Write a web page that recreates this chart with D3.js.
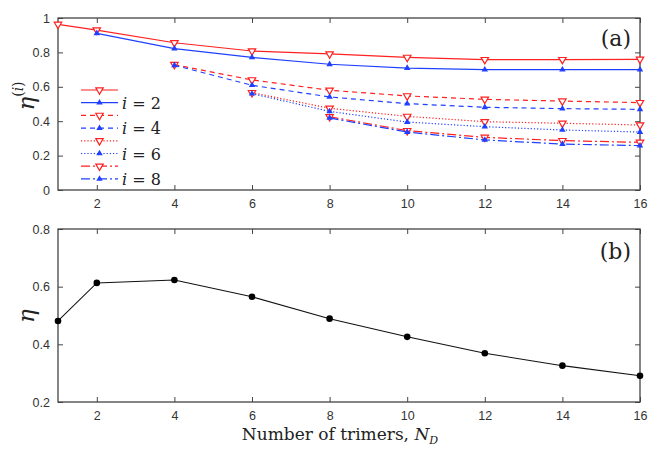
<!DOCTYPE html>
<html>
<head>
<meta charset="utf-8">
<script src="https://cdn.jsdelivr.net/npm/d3@7"></script>
<style>
  body { margin: 0; background: #fff; }
  .tick text { font-family: "Liberation Sans", Arial, sans-serif; font-size: 12.5px; fill: #333; }
</style>
</head>
<body>
<div id="chart"></div>
<script>
// N_D values
var nd = [1, 2, 4, 6, 8, 10, 12, 14, 16];

// panel (a): eta^(i) per i, starting at N_D >= i
var eta1 = [0.963, 0.930, 0.856, 0.808, 0.791, 0.771, 0.758, 0.758, 0.760];
var eta2 = [null, 0.911, 0.822, 0.771, 0.731, 0.709, 0.700, 0.700, 0.700];
var eta3 = [null, null, 0.729, 0.640, 0.580, 0.547, 0.527, 0.517, 0.508];
var eta4 = [null, null, 0.725, 0.609, 0.541, 0.502, 0.481, 0.473, 0.469];
var eta5 = [null, null, null, 0.566, 0.475, 0.428, 0.397, 0.388, 0.378];
var eta6 = [null, null, null, 0.560, 0.457, 0.395, 0.368, 0.349, 0.337];
var eta7 = [null, null, null, null, 0.426, 0.345, 0.306, 0.287, 0.277];
var eta8 = [null, null, null, null, 0.419, 0.337, 0.291, 0.267, 0.258];

// panel (b): total eta
var etaTotal = [0.481, 0.613, 0.623, 0.565, 0.489, 0.426, 0.369, 0.326, 0.291];

var xTicks = [2, 4, 6, 8, 10, 12, 14, 16];
var yTicksA = [0, 0.2, 0.4, 0.6, 0.8, 1];
var yTicksB = [0.2, 0.4, 0.6, 0.8];

var series = [
  {vals: eta1, color: "#ff2020", dash: null, marker: "down", label: ""},
  {vals: eta2, color: "#2040ff", dash: null, marker: "up", label: "2"},
  {vals: eta3, color: "#ff2020", dash: "5,4", marker: "down", label: ""},
  {vals: eta4, color: "#2040ff", dash: "5,4", marker: "up", label: "4"},
  {vals: eta5, color: "#ff2020", dash: "1.2,2", marker: "down", label: ""},
  {vals: eta6, color: "#2040ff", dash: "1.2,2", marker: "up", label: "6"},
  {vals: eta7, color: "#ff2020", dash: "9,3,2,3", marker: "down", label: ""},
  {vals: eta8, color: "#2040ff", dash: "9,3,2,3", marker: "up", label: "8"}
];

var width = 649, height = 449;
var left = 58, right = 640;

var svg = d3.select("#chart").append("svg")
  .attr("width", width)
  .attr("height", height);

var x = d3.scaleLinear().domain([1, 16]).range([left, right]);
var yA = d3.scaleLinear().domain([0, 1]).range([190, 18]);
var yB = d3.scaleLinear().domain([0.2, 0.8]).range([402, 229]);

var serif = "DejaVu Serif";
var frameColor = "#444";

function drawAxes(y, yTicks, fmt) {
  var top = y.range()[1], bottom = y.range()[0];
  // bottom axis with labels, ticks pointing inward
  svg.append("g")
    .attr("transform", "translate(0," + bottom + ")")
    .call(d3.axisBottom(x).tickValues(xTicks).tickSize(-5).tickPadding(9).tickFormat(d3.format("d")));
  svg.append("g")
    .attr("transform", "translate(0," + top + ")")
    .call(d3.axisTop(x).tickValues(xTicks).tickSize(-5).tickFormat(""));
  svg.append("g")
    .attr("transform", "translate(" + left + ",0)")
    .call(d3.axisLeft(y).tickValues(yTicks).tickSize(-5).tickPadding(8).tickFormat(fmt));
  svg.append("g")
    .attr("transform", "translate(" + right + ",0)")
    .call(d3.axisRight(y).tickValues(yTicks).tickSize(-5).tickFormat(""));
  svg.selectAll(".domain").remove();
  svg.selectAll(".tick line").attr("stroke", frameColor).attr("stroke-width", 1);
  svg.append("rect")
    .attr("x", left).attr("y", top)
    .attr("width", right - left).attr("height", bottom - top)
    .attr("fill", "none").attr("stroke", frameColor).attr("stroke-width", 1.3);
}

drawAxes(yA, yTicksA, function(d) { return d === 0 || d === 1 ? d3.format("d")(d) : d3.format(".1f")(d); });
drawAxes(yB, yTicksB, d3.format(".1f"));

var triDown = d3.symbol().type(d3.symbolTriangle).size(24);
var triUp = d3.symbol().type(d3.symbolTriangle).size(18);

function marker(g, s, px, py) {
  if (s.marker === "down") {
    g.append("path").attr("d", triDown())
      .attr("transform", "translate(" + px + "," + py + ") rotate(180)")
      .attr("fill", "#fff").attr("stroke", s.color).attr("stroke-width", 1.2);
  } else {
    g.append("path").attr("d", triUp())
      .attr("transform", "translate(" + px + "," + py + ")")
      .attr("fill", s.color);
  }
}

// panel (a) lines
var lineA = d3.line()
  .defined(function(d) { return d.v !== null; })
  .x(function(d) { return x(d.n); })
  .y(function(d) { return yA(d.v); });

series.forEach(function(s) {
  var pts = nd.map(function(n, i) { return {n: n, v: s.vals[i]}; });
  var g = svg.append("g");
  g.append("path")
    .datum(pts)
    .attr("d", lineA)
    .attr("fill", "none")
    .attr("stroke", s.color)
    .attr("stroke-width", 1.2)
    .attr("stroke-dasharray", s.dash);
  pts.filter(function(d) { return d.v !== null; }).forEach(function(d) {
    marker(g, s, x(d.n), yA(d.v));
  });
});

// legend
var leg = svg.append("g");
series.forEach(function(s, i) {
  var ly = 90 + i * 12.7;
  leg.append("line")
    .attr("x1", 81).attr("x2", 118).attr("y1", ly).attr("y2", ly)
    .attr("stroke", s.color).attr("stroke-width", 1.2)
    .attr("stroke-dasharray", s.dash);
  marker(leg, s, 99.5, ly);
  if (s.label) {
    var t = leg.append("text")
      .attr("x", 122).attr("y", ly + 6)
      .attr("font-family", serif).attr("font-size", 16).attr("fill", "#222");
    t.append("tspan").attr("font-style", "italic").text("i");
    t.append("tspan").text(" = " + s.label);
  }
});

// panel (b)
var lineB = d3.line()
  .x(function(d, i) { return x(nd[i]); })
  .y(function(d) { return yB(d); });

svg.append("path")
  .datum(etaTotal)
  .attr("d", lineB)
  .attr("fill", "none")
  .attr("stroke", "#111")
  .attr("stroke-width", 1.1);

svg.selectAll(".dotB")
  .data(etaTotal)
  .enter().append("circle")
  .attr("cx", function(d, i) { return x(nd[i]); })
  .attr("cy", function(d) { return yB(d); })
  .attr("r", 3.3)
  .attr("fill", "#000");

// panel labels
svg.append("text").attr("x", 631).attr("y", 46).attr("text-anchor", "end")
  .attr("font-family", serif).attr("font-size", 22).attr("fill", "#222").text("(a)");
svg.append("text").attr("x", 631).attr("y", 259).attr("text-anchor", "end")
  .attr("font-family", serif).attr("font-size", 22).attr("fill", "#222").text("(b)");

// y axis titles
var ta = svg.append("text")
  .attr("transform", "translate(34,96) rotate(-90)")
  .attr("text-anchor", "middle")
  .attr("font-family", serif).attr("font-size", 23).attr("fill", "#222");
ta.append("tspan").attr("font-style", "italic").text("η");
ta.append("tspan").attr("font-size", 14).attr("dy", -11).text("(");
ta.append("tspan").attr("font-size", 14).attr("font-style", "italic").text("i");
ta.append("tspan").attr("font-size", 14).text(")");

svg.append("text")
  .attr("transform", "translate(34,316) rotate(-90)")
  .attr("text-anchor", "middle")
  .attr("font-family", serif).attr("font-size", 23).attr("font-style", "italic")
  .attr("fill", "#222").text("η");

// x axis title
var tx = svg.append("text")
  .attr("x", 340).attr("y", 440)
  .attr("text-anchor", "middle")
  .attr("font-family", serif).attr("font-size", 17)
  .attr("fill", "#222");
tx.append("tspan").text("Number of trimers, ");
tx.append("tspan").attr("font-style", "italic").text("N");
tx.append("tspan").attr("font-style", "italic").attr("font-size", 11).attr("dy", 4).text("D");
</script>
</body>
</html>
